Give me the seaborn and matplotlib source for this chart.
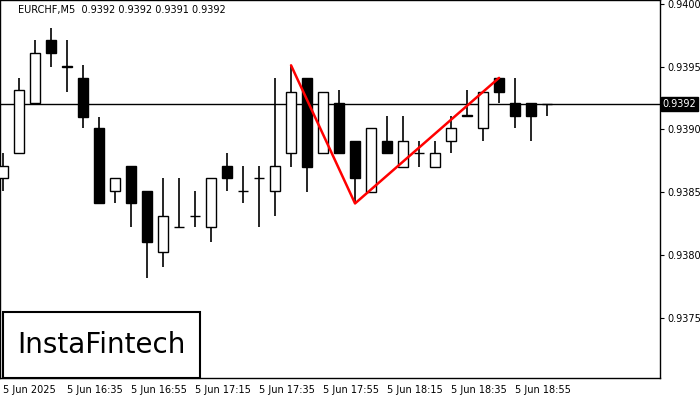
import numpy as np
import pandas as pd
import matplotlib
matplotlib.use("Agg")
import matplotlib.pyplot as plt
import seaborn as sns

# --- datos OHLC (velas M5 desde 16:15) ---
opens = [0.93861, 0.93881, 0.93921, 0.93971, 0.9395, 0.93941, 0.93901, 0.93851, 0.93871, 0.93851,
         0.93802, 0.93822, 0.93831, 0.93822, 0.93871, 0.93851, 0.93861, 0.93851, 0.93881, 0.93941,
         0.93881, 0.93921, 0.93891, 0.9385, 0.93891, 0.9387, 0.93881, 0.9387, 0.93891, 0.93911,
         0.93901, 0.93941, 0.93921, 0.93921, 0.9392]
highs = [0.93881, 0.93941, 0.93971, 0.93981, 0.93971, 0.93951, 0.9391, 0.93861, 0.93871, 0.93851,
         0.93861, 0.93861, 0.93851, 0.93861, 0.93881, 0.93871, 0.93871, 0.93941, 0.93951, 0.93941,
         0.9393, 0.93931, 0.93891, 0.93901, 0.93911, 0.93911, 0.93891, 0.93891, 0.93911, 0.93931,
         0.9393, 0.93941, 0.93941, 0.93921, 0.9392]
lows = [0.93851, 0.93881, 0.93921, 0.9395, 0.9393, 0.93901, 0.93841, 0.93841, 0.93822, 0.93782,
        0.9379, 0.93822, 0.93822, 0.9381, 0.93851, 0.93841, 0.93822, 0.93831, 0.9387, 0.9385,
        0.93881, 0.93881, 0.93841, 0.9385, 0.93881, 0.9387, 0.9387, 0.9387, 0.93881, 0.93911,
        0.93891, 0.93921, 0.93901, 0.93891, 0.93911]
closes = [0.93871, 0.93931, 0.93961, 0.93961, 0.9395, 0.9391, 0.93841, 0.93861, 0.93841, 0.9381,
          0.93831, 0.93822, 0.93831, 0.93861, 0.93861, 0.93851, 0.93861, 0.93871, 0.9393, 0.9387,
          0.9393, 0.93881, 0.93861, 0.93901, 0.93881, 0.93891, 0.93881, 0.93881, 0.93901, 0.93911,
          0.9393, 0.9393, 0.93911, 0.93911, 0.9392]

price_ticks = [0.9375, 0.9380, 0.9385, 0.9390, 0.9395, 0.9400]
time_labels = ["5 Jun 2025", "5 Jun 16:35", "5 Jun 16:55", "5 Jun 17:15", "5 Jun 17:35",
               "5 Jun 17:55", "5 Jun 18:15", "5 Jun 18:35", "5 Jun 18:55"]
time_idx = [0, 4, 8, 12, 16, 20, 24, 28, 32]

# patron "doble techo": indices de vela y precio del vertice
pattern_idx = [18, 22, 31]
pattern_px = [0.93951, 0.93841, 0.93941]
last_price = 0.9392

df = pd.DataFrame({"o": opens, "h": highs, "l": lows, "c": closes})
df["i"] = np.arange(len(df))

sns.set_style("white")
plt.rcParams["font.family"] = ["DejaVu Sans"]

fig = plt.figure(figsize=(7, 4), dpi=100)
ax = fig.add_axes([0, 22 / 400, 660 / 700, 378 / 400])

# mechas
ax.vlines(df["i"], df["l"], df["h"], color="black", linewidth=1.2, zorder=2)
# cuerpos (los doji quedan como una raya fina)
body_lo = df[["o", "c"]].min(axis=1)
body_h = (df["o"] - df["c"]).abs().clip(lower=0.0000015)
colors = np.where(df["c"] >= df["o"], "white", "black")
ax.bar(df["i"], body_h, bottom=body_lo, width=0.65, color=colors,
       edgecolor="black", linewidth=1.0, zorder=3)

ax.axhline(last_price, color="black", linewidth=1.0, zorder=1)
ax.plot(pattern_idx, pattern_px, color="red", linewidth=1.8, zorder=4)

ax.set_xlim(-0.19, 41.06)
ax.set_ylim(0.93702, 0.94003)
ax.yaxis.tick_right()
ax.set_yticks(price_ticks)
ax.set_yticklabels([f"{p:.4f}" for p in price_ticks], fontsize=7)
ax.set_xticks(time_idx)
ax.set_xticklabels(time_labels, fontsize=7, ha="left")
ax.tick_params(axis="both", length=3, direction="out", pad=2, labelcolor="black", color="black")
for s in ax.spines.values():
    s.set_color("black")
    s.set_linewidth(1.0)

ax.text(18 / 660, 1 - 10 / 378, "EURCHF,M5  0.9392 0.9392 0.9391 0.9392",
        transform=ax.transAxes, fontsize=7, va="center", color="black")

# etiqueta del ultimo precio
ax.text(1.004, last_price, f"{last_price:.4f}", transform=ax.get_yaxis_transform(),
        fontsize=7, color="white", va="center", ha="left",
        bbox=dict(boxstyle="square,pad=0.2", fc="black", ec="black"), zorder=5)

# logo
fig.patches.append(plt.Rectangle((3 / 700, 22 / 400), 197 / 700, 66 / 400,
                                 transform=fig.transFigure, fc="white", ec="black", lw=1.5))
fig.text(101 / 700, 55 / 400, "InstaFintech", fontsize=20, ha="center", va="center",
         family=["DejaVu Sans"], color="black", fontweight="medium")

fig.savefig("out.png", dpi=100)
